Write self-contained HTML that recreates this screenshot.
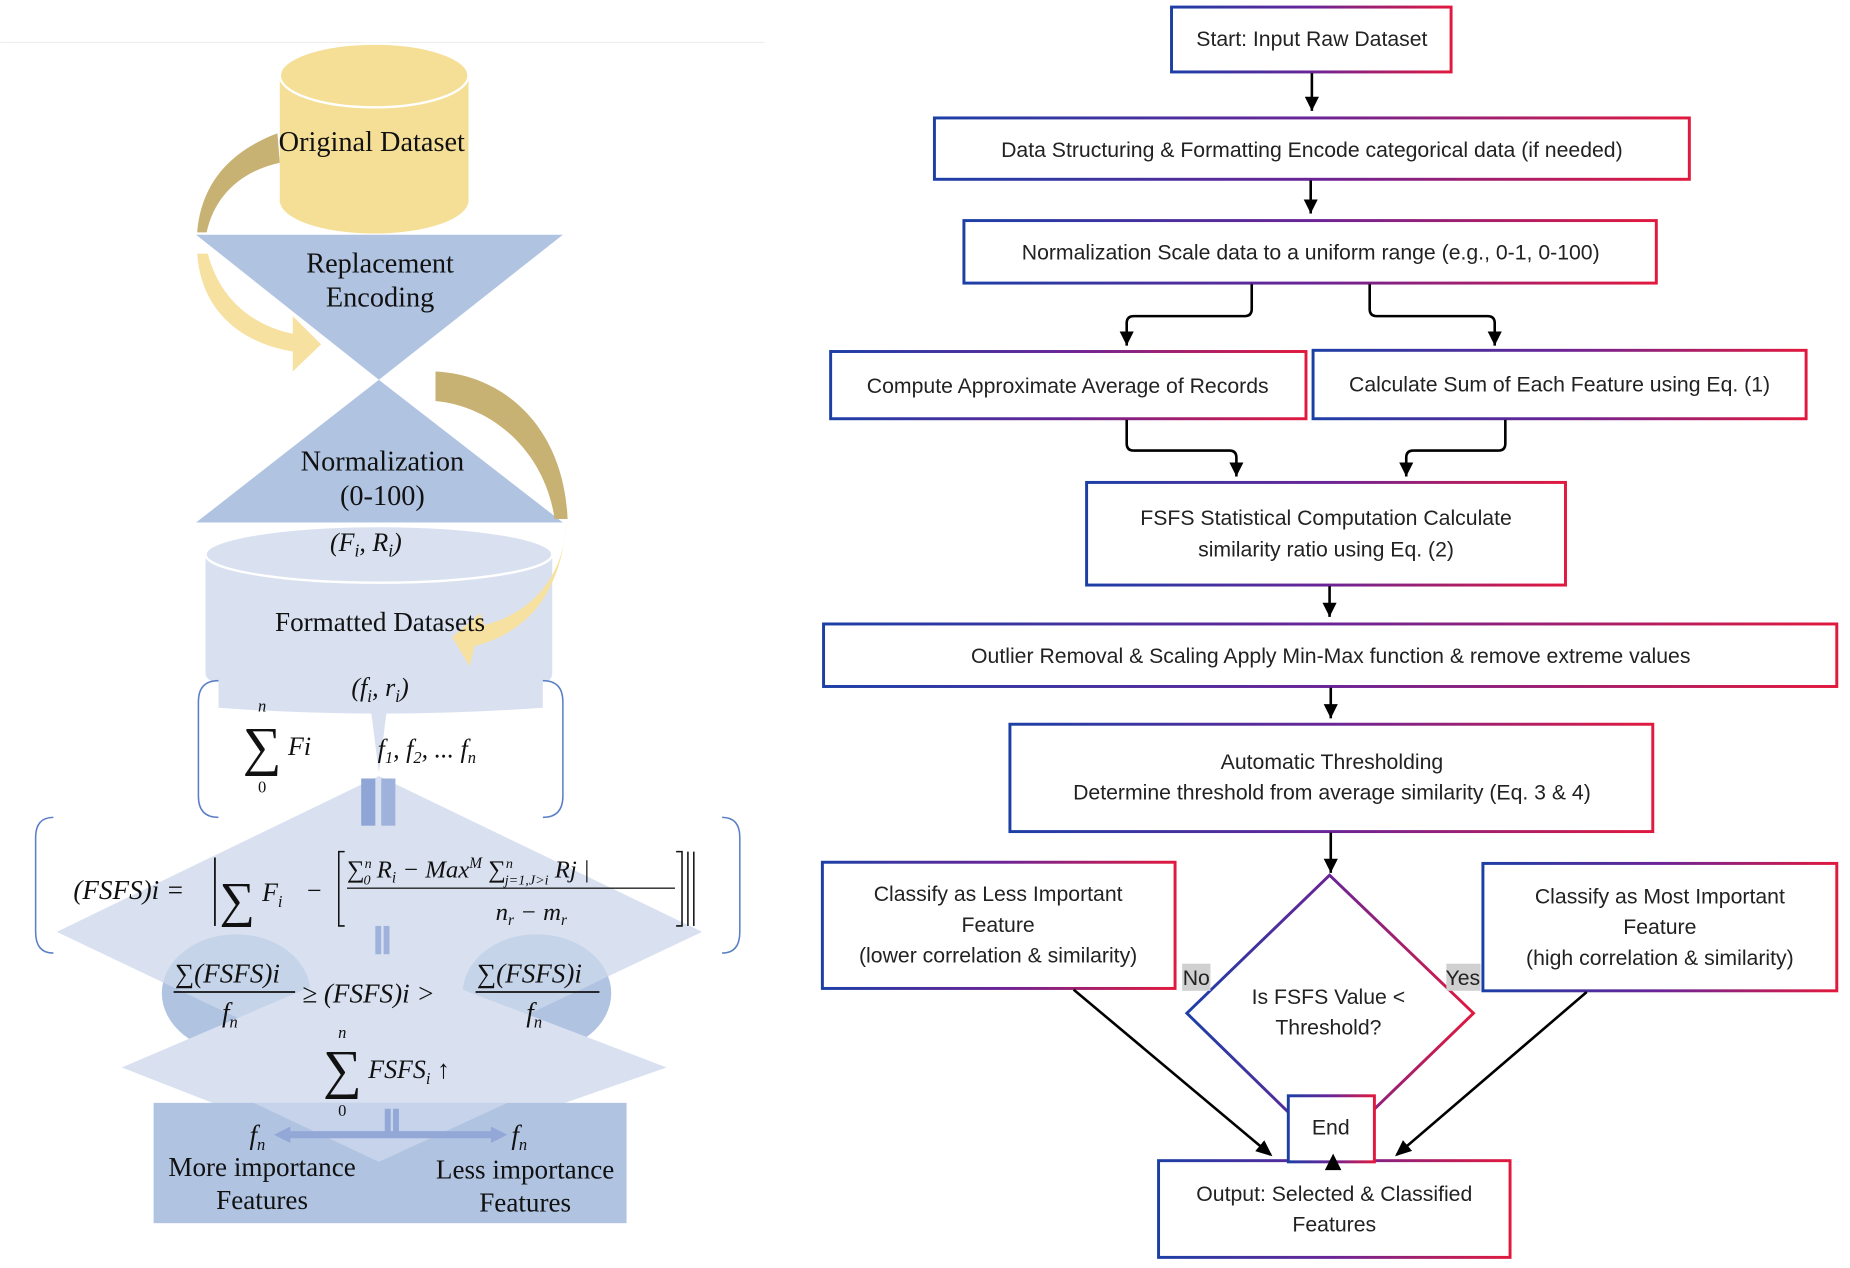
<!DOCTYPE html>
<html><head><meta charset="utf-8"><style>
html,body{margin:0;padding:0;background:#fff;}
svg{display:block;}
.s{font-family:"Liberation Serif",serif;fill:#111;}
.i{font-family:"Liberation Serif",serif;font-style:italic;fill:#111;}
.a{font-family:"Liberation Sans",sans-serif;font-size:18px;fill:#222;text-anchor:middle;}
</style></head><body>
<svg width="1850" height="1268" viewBox="0 0 1568 1075" xmlns="http://www.w3.org/2000/svg">
<defs>
<linearGradient id="g" x1="0" y1="0" x2="1" y2="0">
<stop offset="0" stop-color="#1c3fa6"/><stop offset="0.5" stop-color="#6a2497"/><stop offset="1" stop-color="#e1193e"/>
</linearGradient>
<marker id="ar" markerWidth="12" markerHeight="12" refX="12" refY="6" orient="auto" markerUnits="userSpaceOnUse" viewBox="0 0 12 12">
<path d="M0,0 L12,6 L0,12 z" fill="#000"/>
</marker>
<marker id="ah" markerWidth="14" markerHeight="14" refX="12" refY="6" orient="auto" markerUnits="userSpaceOnUse" viewBox="0 0 14 12">
<path d="M0,0 L14,6 L0,12 z" fill="#000"/>
</marker>
</defs>
<rect width="1568" height="1075" fill="#fff"/>

<!-- LEFT -->
<line x1="0" y1="36" x2="648" y2="36" stroke="#eee" stroke-width="1"/>
<path d="M235,113 C190,130 170,160 167,197 L175,197 C182,165 205,145 237,138 Z" fill="#c8b273"/>
<rect x="237" y="64" width="160" height="108" fill="#f5df96"/>
<ellipse cx="317" cy="170" rx="80" ry="28" fill="#f5df96"/>
<ellipse cx="317" cy="64" rx="80" ry="27" fill="#f5df96" stroke="#fff" stroke-width="2"/>
<text class="s" x="315" y="128" font-size="24" text-anchor="middle">Original Dataset</text>
<polygon points="166,199 477,199 321,322" fill="#b0c4e2"/>
<polygon points="321,322 166,443 477,443" fill="#b0c4e2"/>
<text class="s" x="322" y="231" font-size="24" text-anchor="middle">Replacement</text>
<text class="s" x="322" y="260" font-size="24" text-anchor="middle">Encoding</text>
<text class="s" x="324" y="399" font-size="24" text-anchor="middle">Normalization</text>
<text class="s" x="324" y="428" font-size="24" text-anchor="middle">(0-100)</text>
<path d="M167,215 C170,260 200,290 248,298 L248,315 L272,292 L248,268 L248,283 C210,275 185,250 176,215 Z" fill="#f7e1a0"/>
<path d="M369,315 C430,318 478,365 481,440 L470,440 C462,385 420,345 369,340 Z" fill="#c8b273"/>
<path d="M174,470 L174,570 Q174,578 185,578 L185,600 Q320,610 460,600 L460,578 Q468,578 468,570 L468,470 Z" fill="#d9e1f1"/>
<path d="M314,600 L321,655 L328,600 Z" fill="#d9e1f1"/>
<ellipse cx="321" cy="470" rx="147" ry="24" fill="#d9e1f1" stroke="#fff" stroke-width="2"/>
<path d="M480,442 C478,490 450,520 410,530 L407,520 L383,540 L398,565 L402,548 C450,535 476,500 480,442 Z" fill="#f7e1a0"/>
<text class="i" x="310" y="467" font-size="22" text-anchor="middle">(F<tspan font-size="15" dy="5">i</tspan><tspan dy="-5">, R</tspan><tspan font-size="15" dy="5">i</tspan><tspan dy="-5">)</tspan></text>
<text class="s" x="322" y="535" font-size="23" text-anchor="middle">Formatted Datasets</text>
<text class="i" x="322" y="590" font-size="22" text-anchor="middle">(f<tspan font-size="15" dy="5">i</tspan><tspan dy="-5">, r</tspan><tspan font-size="15" dy="5">i</tspan><tspan dy="-5">)</tspan></text>
<path d="M185,577 Q168,577 168,595 L168,675 Q168,693 185,693" fill="none" stroke="#5b7fc7" stroke-width="1.3"/>
<path d="M460,577 Q477,577 477,595 L477,675 Q477,693 460,693" fill="none" stroke="#5b7fc7" stroke-width="1.3"/>
<polygon points="321,658 595,790 321,920 48,790" fill="#d9e1f1"/>
<ellipse cx="200" cy="842" rx="63" ry="50" fill="#b0c4e2"/>
<ellipse cx="455" cy="842" rx="63" ry="50" fill="#b0c4e2"/>
<polygon points="321,812 565,905 321,990 103,905" fill="#d9e1f1"/>
<polygon points="321,658 595,790 321,920 48,790" fill="#d9e1f1" opacity="0.55"/>
<rect x="130" y="935" width="401" height="102" fill="#b0c4e2"/>
<polygon points="215,935 430,935 321,985" fill="#c6d3ea"/>
<rect x="306" y="660" width="12" height="40" fill="#8fa5d6"/>
<rect x="323" y="660" width="12" height="40" fill="#9eb2dc"/>
<rect x="318" y="785" width="5" height="24" fill="#9eb2dc"/>
<rect x="325" y="785" width="5" height="24" fill="#9eb2dc"/>
<rect x="326" y="940" width="5" height="22" fill="#94a8d8"/>
<rect x="333" y="940" width="5" height="22" fill="#94a8d8"/>
<path d="M232,962 L246,955 L246,959 L416,959 L416,955 L430,962 L416,969 L416,965 L246,965 L246,969 Z" fill="#94a8d8"/>
<text class="s" x="222" y="603" font-size="14" font-style="italic" text-anchor="middle">n</text>
<text class="s" x="222" y="648" font-size="46" text-anchor="middle">∑</text>
<text class="i" x="244" y="640" font-size="22">Fi</text>
<text class="s" x="222" y="672" font-size="14" text-anchor="middle">0</text>
<text class="i" x="320" y="642" font-size="22">f<tspan font-size="14" dy="5">1</tspan><tspan dy="-5">, f</tspan><tspan font-size="14" dy="5">2</tspan><tspan dy="-5">, ... f</tspan><tspan font-size="14" dy="5">n</tspan></text>
<path d="M45,693 Q30,693 30,710 L30,790 Q30,808 45,808" fill="none" stroke="#5b7fc7" stroke-width="1.3"/>
<path d="M612,693 Q627,693 627,710 L627,790 Q627,808 612,808" fill="none" stroke="#5b7fc7" stroke-width="1.3"/>
<text class="i" x="62" y="762" font-size="23">(FSFS)i =</text>
<line x1="182" y1="727" x2="182" y2="785" stroke="#111" stroke-width="1.5"/>
<text class="s" x="186" y="777" font-size="42">∑</text>
<text class="i" x="222" y="764" font-size="22">F<tspan font-size="14" dy="5">i</tspan></text>
<text class="s" x="260" y="762" font-size="22">−</text>
<path d="M292,722 L287,722 L287,785 L292,785" fill="none" stroke="#111" stroke-width="1.3"/>
<text class="i" x="294" y="744" font-size="21">∑<tspan font-size="12" dy="-8">n</tspan><tspan font-size="12" dx="-7" dy="14">0</tspan><tspan dy="-6"> R</tspan><tspan font-size="13" dy="4">i</tspan><tspan dy="-4"> − Max</tspan><tspan font-size="13" dy="-8">M</tspan><tspan dy="8"> ∑</tspan><tspan font-size="12" dy="-8">n</tspan><tspan font-size="12" dx="-7" dy="14">j=1,J&gt;i</tspan><tspan dy="-6"> Rj |</tspan></text>
<line x1="294" y1="753" x2="572" y2="753" stroke="#222" stroke-width="1.2"/>
<text class="i" x="420" y="780" font-size="21">n<tspan font-size="13" dy="4">r</tspan><tspan dy="-4"> − m</tspan><tspan font-size="13" dy="4">r</tspan></text>
<path d="M573,722 L578,722 L578,785 L573,785" fill="none" stroke="#111" stroke-width="1.3"/>
<line x1="583" y1="722" x2="583" y2="785" stroke="#111" stroke-width="1.3"/>
<line x1="588" y1="722" x2="588" y2="785" stroke="#111" stroke-width="1.3"/>
<text class="i" x="148" y="833" font-size="23">∑(FSFS)i</text>
<line x1="147" y1="841" x2="250" y2="841" stroke="#111" stroke-width="1.5"/>
<text class="i" x="188" y="866" font-size="23">f<tspan font-size="14" dy="5">n</tspan></text>
<text class="i" x="256" y="850" font-size="23">≥ (FSFS)i &gt;</text>
<text class="i" x="404" y="833" font-size="23">∑(FSFS)i</text>
<line x1="403" y1="841" x2="508" y2="841" stroke="#111" stroke-width="1.5"/>
<text class="i" x="446" y="866" font-size="23">f<tspan font-size="14" dy="5">n</tspan></text>
<text class="s" x="290" y="880" font-size="14" font-style="italic" text-anchor="middle">n</text>
<text class="s" x="290" y="922" font-size="46" text-anchor="middle">∑</text>
<text class="i" x="312" y="914" font-size="22">FSFS<tspan font-size="14" dy="5">i</tspan><tspan dy="-5"> ↑</tspan></text>
<text class="s" x="290" y="946" font-size="14" text-anchor="middle">0</text>
<text class="i" x="218" y="970" font-size="23" text-anchor="middle">f<tspan font-size="14" dy="5">n</tspan></text>
<text class="s" x="222" y="997" font-size="23" text-anchor="middle">More importance</text>
<text class="s" x="222" y="1025" font-size="23" text-anchor="middle">Features</text>
<text class="i" x="440" y="970" font-size="23" text-anchor="middle">f<tspan font-size="14" dy="5">n</tspan></text>
<text class="s" x="445" y="999" font-size="23" text-anchor="middle">Less importance</text>
<text class="s" x="445" y="1027" font-size="23" text-anchor="middle">Features</text>

<!-- RIGHT flowchart -->
<g fill="#fff" stroke="url(#g)" stroke-width="2.5">
<rect x="993" y="6" width="237" height="55"/>
<rect x="792" y="100" width="640" height="52"/>
<rect x="817" y="187" width="587" height="53"/>
<rect x="704" y="298" width="403" height="57"/>
<rect x="1113" y="297" width="418" height="58"/>
<rect x="921" y="409" width="406" height="87"/>
<rect x="698" y="529" width="859" height="53"/>
<rect x="856" y="614" width="545" height="91"/>
<rect x="697" y="731" width="299" height="107"/>
<rect x="1257" y="732" width="300" height="108"/>
<polygon points="1127,742 1249,859 1127,977 1006,859"/>
<rect x="982" y="984" width="298" height="82"/>
<rect x="1092" y="929" width="73" height="56"/>
</g>
<g fill="none" stroke="#000" stroke-width="2.2">
<path d="M1112,62 L1112,94" marker-end="url(#ar)"/>
<path d="M1111,153 L1111,181" marker-end="url(#ar)"/>
<path d="M1061,241 L1061,262 Q1061,268 1055,268 L961,268 Q955,268 955,274 L955,293" marker-end="url(#ar)"/>
<path d="M1161,241 L1161,262 Q1161,268 1167,268 L1261,268 Q1267,268 1267,274 L1267,293" marker-end="url(#ar)"/>
<path d="M955,356 L955,376 Q955,382 961,382 L1042,382 Q1048,382 1048,388 L1048,404" marker-end="url(#ar)"/>
<path d="M1276,356 L1276,376 Q1276,382 1270,382 L1198,382 Q1192,382 1192,388 L1192,404" marker-end="url(#ar)"/>
<path d="M1127,497 L1127,523" marker-end="url(#ar)"/>
<path d="M1128,583 L1128,609" marker-end="url(#ar)"/>
<path d="M1128,706 L1128,740" marker-end="url(#ar)"/>
<path d="M910,839 L1077,979" marker-end="url(#ah)"/>
<path d="M1345,841 L1184,979" marker-end="url(#ah)"/>
</g>
<path d="M1123,992 L1130,978 L1137,992 Z" fill="#000"/>
<rect x="1002" y="817" width="24" height="23" fill="#d0d0d0"/>
<text class="a" x="1014" y="835">No</text>
<rect x="1226" y="817" width="29" height="23" fill="#d0d0d0"/>
<text class="a" x="1240" y="835">Yes</text>
<text class="a" x="1112" y="39">Start: Input Raw Dataset</text>
<text class="a" x="1112" y="133">Data Structuring &amp; Formatting Encode categorical data (if needed)</text>
<text class="a" x="1111" y="220">Normalization Scale data to a uniform range (e.g., 0-1, 0-100)</text>
<text class="a" x="905" y="333">Compute Approximate Average of Records</text>
<text class="a" x="1322" y="332">Calculate Sum of Each Feature using Eq. (1)</text>
<text class="a" x="1124" y="445">FSFS Statistical Computation Calculate</text>
<text class="a" x="1124" y="472">similarity ratio using Eq. (2)</text>
<text class="a" x="1128" y="562">Outlier Removal &amp; Scaling Apply Min-Max function &amp; remove extreme values</text>
<text class="a" x="1129" y="652">Automatic Thresholding</text>
<text class="a" x="1129" y="678">Determine threshold from average similarity (Eq. 3 &amp; 4)</text>
<text class="a" x="846" y="764">Classify as Less Important</text>
<text class="a" x="846" y="790">Feature</text>
<text class="a" x="846" y="816">(lower correlation &amp; similarity)</text>
<text class="a" x="1407" y="766">Classify as Most Important</text>
<text class="a" x="1407" y="792">Feature</text>
<text class="a" x="1407" y="818">(high correlation &amp; similarity)</text>
<text class="a" x="1126" y="851">Is FSFS Value &lt;</text>
<text class="a" x="1126" y="877">Threshold?</text>
<text class="a" x="1128" y="962">End</text>
<text class="a" x="1131" y="1018">Output: Selected &amp; Classified</text>
<text class="a" x="1131" y="1044">Features</text>
</svg>
</body></html>
